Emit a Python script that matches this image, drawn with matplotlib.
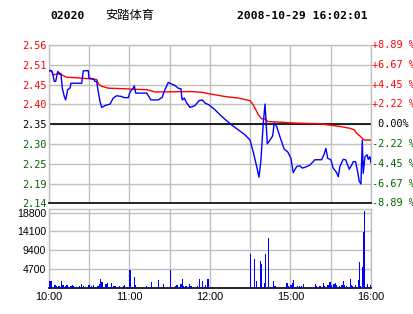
import matplotlib
matplotlib.use('Agg')
import matplotlib.pyplot as plt

# --- data (x = minutes since 10:00, trading time only) ---
code = '02020'
name = '安踏体育'
stamp = '2008-10-29 16:02:01'
prev_close = 2.35

price_labels = ['2.56', '2.51', '2.45', '2.40', '2.35', '2.30', '2.25', '2.19', '2.14']
pct_labels = ['+8.89 %', '+6.67 %', '+4.45 %', '+2.22 %', ' 0.00%',
              '-2.22 %', '-4.45 %', '-6.67 %', '-8.89 %']
price_levels = [2.559, 2.507, 2.454, 2.402, 2.35, 2.298, 2.246, 2.193, 2.141]

time_ticks = [0, 30, 60, 90, 120, 150, 180, 210, 240]
time_labels = ['10:00', '', '11:00', '', '12:00', '', '15:00', '', '16:00']

price_t = [0, 1.5, 2.5, 3.9, 5.0, 6.5, 8.2, 8.9, 9.9, 11.4, 12.4, 13.2, 13.9, 15.6,
           16.4, 24.4, 24.8, 25.6, 29.3, 29.8, 31.8, 33.0, 34.3, 35.5, 36.7, 38.0,
           39.3, 41.7, 45.5, 47.9, 50.4, 54.2, 55.9, 59.1, 60.4, 62.8, 63.6, 64.6,
           72.8, 76.0, 81.4, 84.4, 86.4, 88.9, 91.4, 93.9, 96.3, 98.4, 98.9, 99.3,
           100.8, 102.6, 105.1, 108.8, 111.8, 114.2, 116.2, 119.2, 121.7, 123.7,
           126.2, 131.1, 136.1, 141.1, 146.0, 148.5, 149.8, 152.2, 154.8, 156.5,
           158.0, 159.7, 161.0, 161.7, 162.7, 164.7, 166.7, 167.9, 169.7, 172.1,
           175.3, 177.9, 180.3, 182.0, 184.6, 187.0, 188.7, 190.8, 194.5, 198.2,
           203.2, 205.1, 206.4, 207.7, 210.1, 211.8, 214.4, 215.6, 216.8, 219.3,
           221.1, 222.6, 223.8, 225.6, 226.8, 228.5, 230.0, 231.2, 232.5, 233.5,
           234.2, 235.5, 237.2, 237.9, 239.2, 240]
price = [2.49, 2.492, 2.488, 2.463, 2.463, 2.489, 2.483, 2.484, 2.445, 2.423, 2.414,
         2.428, 2.441, 2.445, 2.458, 2.458, 2.472, 2.491, 2.491, 2.472, 2.47, 2.47,
         2.463, 2.463, 2.436, 2.41, 2.394, 2.399, 2.403, 2.419, 2.425, 2.423, 2.42,
         2.42, 2.435, 2.445, 2.451, 2.432, 2.432, 2.414, 2.414, 2.421, 2.441, 2.46,
         2.456, 2.452, 2.445, 2.443, 2.423, 2.414, 2.419, 2.406, 2.394, 2.399, 2.412,
         2.414, 2.406, 2.401, 2.394, 2.388, 2.379, 2.363, 2.348, 2.335, 2.322, 2.313,
         2.308, 2.277, 2.238, 2.21, 2.256, 2.353, 2.403, 2.361, 2.298, 2.308, 2.319,
         2.353, 2.344, 2.317, 2.284, 2.277, 2.26, 2.222, 2.238, 2.24, 2.234, 2.236,
         2.242, 2.256, 2.256, 2.271, 2.286, 2.26, 2.256, 2.234, 2.222, 2.211, 2.238,
         2.257, 2.256, 2.242, 2.231, 2.242, 2.251, 2.251, 2.225, 2.2, 2.192, 2.308,
         2.22, 2.264, 2.269, 2.257, 2.264, 2.248]

avg_t = [0, 1.5, 3.2, 6.9, 9.4, 13.2, 21.8, 29.3, 35.5, 37.3, 39.3, 44.2, 59.1, 64.1,
         73.0, 79.0, 106.3, 113.8, 121.3, 126.3, 131.1, 141.1, 149.8, 152.2, 156.0,
         158.5, 161.0, 163.0, 173.4, 182.0, 192.0, 202.0, 208.1, 216.8, 224.3, 227.5,
         229.3, 231.7, 234.2, 235.5, 240]
avg = [2.49, 2.492, 2.48, 2.483, 2.48, 2.474, 2.472, 2.47, 2.468, 2.454, 2.45, 2.445,
       2.443, 2.442, 2.441, 2.435, 2.436, 2.434, 2.429, 2.426, 2.423, 2.419, 2.412,
       2.401, 2.375, 2.364, 2.364, 2.357, 2.355, 2.353, 2.352, 2.351, 2.348, 2.344,
       2.339, 2.335, 2.326, 2.319, 2.31, 2.308, 2.308]

vol_t = [0, 1, 4, 5, 7, 9, 10, 12, 13, 16, 17, 18, 22, 24, 25, 29, 30, 31, 33, 36,
         37, 38, 39, 42, 43, 46, 48, 49, 52, 55, 56, 60, 63, 64, 72, 76, 81, 85, 90,
         94, 95, 98, 99, 100, 101, 102, 104, 105, 106, 110, 112, 114, 116, 118,
         150, 153, 154, 157, 158, 160, 161, 163, 167, 168, 177, 178, 180, 181, 182,
         185, 186, 188, 189, 198, 199, 201, 202, 204, 205, 207, 208, 209, 210, 212,
         213, 214, 216, 218, 219, 220, 221, 224, 225, 226, 228, 230, 231, 232, 233,
         234, 235, 237, 239, 240]
vol = [1730, 1730, 740, 500, 500, 1730, 740, 500, 740, 500, 740, 500, 500, 990, 500,
       740, 740, 500, 740, 500, 990, 2230, 1490, 990, 1240, 1240, 500, 500, 500, 500,
       740, 4450, 2720, 740, 500, 1490, 1980, 990, 4450, 500, 740, 990, 2390, 500,
       500, 500, 990, 500, 500, 500, 2390, 1730, 740, 2400,
       8400, 7180, 1730, 6680, 5940, 1240, 8400, 12460, 1730, 500, 1240, 500, 740,
       1240, 1980, 500, 500, 500, 990, 990, 500, 500, 500, 1240, 500, 740, 740, 1490,
       740, 990, 1240, 740, 500, 740, 1730, 740, 500, 2230, 740, 500, 740, 1980,
       6520, 500, 5200, 13860, 19060, 990, 740, 1490]
vol_ticks = [4700, 9400, 14100, 18800]

UP = '#ff0000'
DOWN = '#006400'
GRID = '#c0c0c0'
MONO = 'DejaVu Sans Mono'

fig = plt.figure(figsize=(4.14, 3.14), dpi=100)
fig.patch.set_facecolor('white')

# price panel
ax = fig.add_axes([49 / 414, 1 - 203.3 / 314, 322 / 414, 158.3 / 314])
ax.set_xlim(0, 240)
ax.set_ylim(price_levels[-1], price_levels[0])
ax.set_xticks(time_ticks)
ax.set_xticklabels([])
ax.set_yticks(price_levels)
ax.set_yticklabels(price_labels, family=MONO, fontsize=7.3)
ax.tick_params(length=0, pad=2)
for i, lab in enumerate(ax.get_yticklabels()):
    lab.set_color(UP if i < 4 else ('black' if i == 4 else DOWN))
ax.grid(True, color=GRID, lw=1)
for s in ['top', 'left', 'right']:
    ax.spines[s].set_color(GRID)
    ax.spines[s].set_linewidth(1)
ax.spines['bottom'].set_color('black')
ax.spines['bottom'].set_linewidth(1.2)
ax.axhline(prev_close, color='black', lw=1.2, zorder=2)

ax.plot(avg_t, avg, color='#ff0000', lw=1, zorder=3)
ax.plot(price_t, price, color='#0000ff', lw=1, zorder=4)

for i, (lv, lab) in enumerate(zip(price_levels, pct_labels)):
    c = UP if i < 4 else ('black' if i == 4 else DOWN)
    ax.text(1.002, lv, lab, transform=ax.get_yaxis_transform(), ha='left',
            va='center', family=MONO, fontsize=7.3, color=c, clip_on=False)

# volume panel
av = fig.add_axes([49 / 414, 1 - 288.3 / 314, 322 / 414, 79 / 314])
av.bar(vol_t, vol, width=0.9, align='edge', color='#0000ff', linewidth=0,
       antialiased=False, zorder=3)
av.set_xlim(0, 240)
av.set_ylim(0, 19600)
av.set_yticks(vol_ticks)
av.set_yticklabels([str(v) for v in vol_ticks], family='Liberation Sans', fontsize=7.6)
av.set_xticks(time_ticks)
av.set_xticklabels(time_labels, family='Liberation Sans', fontsize=7.8)
av.tick_params(length=0, pad=2)
av.tick_params(axis='x', pad=3)
av.grid(True, color=GRID, lw=1)
for s in ['top', 'left', 'right']:
    av.spines[s].set_color(GRID)
    av.spines[s].set_linewidth(1)
av.spines['bottom'].set_color('black')
av.spines['bottom'].set_linewidth(1.2)

# header
fig.text(50 / 414, 1 - 16 / 314, code, family=MONO, weight='bold', fontsize=8.2,
         va='center', ha='left')
fig.text(105 / 414, 1 - 16 / 314, name, family=['Noto Sans CJK SC', 'DejaVu Sans'],
         fontsize=8.8, va='center', ha='left')
fig.text(237 / 414, 1 - 16 / 314, stamp, family=MONO, weight='bold', fontsize=8.2,
         va='center', ha='left')

fig.savefig('out.png', dpi=100)
